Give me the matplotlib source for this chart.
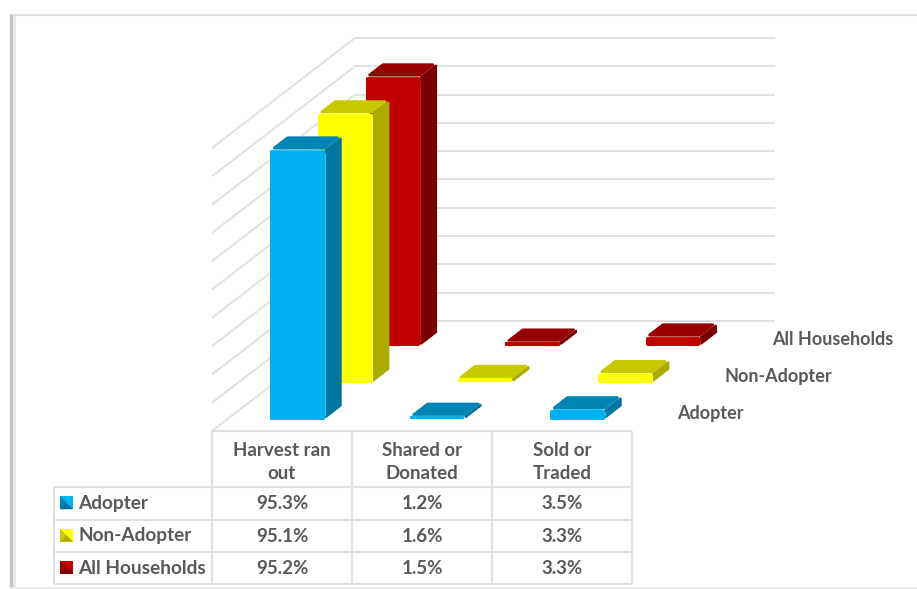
import matplotlib
matplotlib.use("Agg")
import matplotlib.pyplot as plt
import numpy as np
from matplotlib.patches import Polygon

plt.rcParams["font.family"] = ["Lato", "DejaVu Sans"]

categories = ["Harvest ran\nout", "Shared or\nDonated", "Sold or\nTraded"]
series_names = ["Adopter", "Non-Adopter", "All Households"]
adopter = [95.3, 1.2, 3.5]
non_adopter = [95.1, 1.6, 3.3]
all_households = [95.2, 1.5, 3.3]
series_values = [adopter, non_adopter, all_households]
grid_values = [0, 10, 20, 30, 40, 50, 60, 70, 80, 90, 100]

# front, top, side, highlight
colors = [
    ("#00B0F0", "#0085B5", "#0076A1", "#30C2F5"),
    ("#FFFF00", "#C8C800", "#ABAB00", "#FFFF66"),
    ("#C00000", "#960000", "#780000", "#DC0C0C"),
]
text_color = "#595959"
line_color = "#E0E0E0"

fig = plt.figure(figsize=(9.17, 5.89), dpi=100)
ax = fig.add_axes([0, 0, 1, 1])
ax.set_xlim(0, 917)
ax.set_ylim(589, 0)
ax.axis("off")


# oblique projection: category, depth, value -> picture position
def project(c, d, v):
    return (212 + 140 * c + 47.67 * d, 431 - 36.67 * d - 2.83 * v)


# moves every edge of a convex polygon inwards by r pixels
def inset(points, r):
    pts = np.array(points, dtype=float)
    n = len(pts)
    center = pts.mean(axis=0)
    lines = []
    for i in range(n):
        a, b = pts[i], pts[(i + 1) % n]
        normal = np.array([b[1] - a[1], a[0] - b[0]])
        normal = normal / np.hypot(*normal)
        if np.dot(center - a, normal) < 0:
            normal = -normal
        lines.append((normal, np.dot(normal, a) + r))
    out = []
    for i in range(n):
        n1, c1 = lines[i - 1]
        n2, c2 = lines[i]
        out.append(np.linalg.solve(np.array([n1, n2]), np.array([c1, c2])))
    return out


# rounded face: shrunk polygon with a thick round stroke
def face(points, color, r=1.5, z=3):
    ax.add_patch(Polygon(inset(points, r), closed=True, facecolor=color, edgecolor=color,
                         linewidth=r * 2 * 0.72, joinstyle="round", zorder=z))


def line(p1, p2, color=line_color, lw=1.4, z=1):
    ax.plot([p1[0], p2[0]], [p1[1], p2[1]], color=color, lw=lw, zorder=z,
            solid_capstyle="butt")


# outer frame of the picture
line((10, 14.5), (917, 14.5), "#DDDDDD", 1.5)
line((11, 14), (11, 588), "#C4C4C4", 2.5)
line((14, 15), (14, 588), "#E8E8E8", 2)
line((10, 587.5), (917, 587.5), "#E8E8E8", 1.2)

# walls
n_cat = len(categories)
n_ser = len(series_names)
for g in grid_values:
    line(project(0, 0, g), project(0, n_ser, g))
    line(project(0, n_ser, g), project(n_cat, n_ser, g))

# bars, back series first
w0, w1 = 0.305, 0.695
d0, d1 = 0.32, 0.68
for s in range(n_ser - 1, -1, -1):
    front, top, side, light = colors[s]
    for c in range(n_cat):
        v = series_values[s][c]
        x0, x1 = c + w0, c + w1
        y0, y1 = s + d0, s + d1
        r = 1.5 if v > 2 else 1.1
        face([project(x1, y0, 0), project(x1, y1, 0), project(x1, y1, v), project(x1, y0, v)], side, min(r, 1.2))
        face([project(x0, y0, v), project(x1, y0, v), project(x1, y1, v), project(x0, y1, v)], top, r)
        face([project(x0, y0, 0), project(x1, y0, 0), project(x1, y0, v), project(x0, y0, v)], front, r)
        if v > 3:
            px0, py0 = project(x0, y0, v)
            px1, py1 = project(x1, y0, 0)
            line((px0 + 3, py0), (px1 - 3, py0), light, 0.8, 4)
            line((px1, py0 + 3), (px1, py1 - 3), light, 0.8, 4)

# series names on the right of the floor
for s, name in enumerate(series_names):
    x, y = project(n_cat, s + 0.5, 0)
    ax.text(x + 21, y + 0.5, name, color=text_color, fontsize=13, fontweight="bold",
            ha="left", va="center")

# data table under the chart
col_x = [project(c, 0, 0)[0] for c in range(n_cat + 1)]
row_y = [431, 487, 519.5, 552, 584]
table_left = 54

line((col_x[0], row_y[0]), (col_x[-1], row_y[0]), lw=1.5)
for y in row_y[1:]:
    line((table_left, y), (col_x[-1], y), lw=1.5)
line((table_left, row_y[1]), (table_left, row_y[-1]), lw=1.5)
for x in col_x:
    line((x, row_y[0]), (x, row_y[-1]), lw=1.5)

for c, cat in enumerate(categories):
    ax.text((col_x[c] + col_x[c + 1]) / 2, (row_y[0] + row_y[1]) / 2 + 3, cat,
            color=text_color, fontsize=13.5, fontweight="bold", ha="center",
            va="center", linespacing=1.4)

for s, name in enumerate(series_names):
    y_mid = (row_y[s + 1] + row_y[s + 2]) / 2
    front, top, side, light = colors[s]
    kx, ky = 60, y_mid - 7
    k = 13
    cx, cy = kx + k / 2, ky + k / 2
    ax.add_patch(Polygon([(kx, ky), (kx + k, ky), (kx + k, ky + k), (kx, ky + k)],
                         facecolor=front, edgecolor="none", zorder=4))
    ax.add_patch(Polygon([(kx, ky), (cx, cy), (kx, ky + k)], facecolor=top, edgecolor="none", zorder=5))
    ax.add_patch(Polygon([(kx, ky + k), (cx, cy), (kx + k, ky + k)], facecolor=side, edgecolor="none", zorder=5))
    ax.text(78, y_mid, name, color=text_color, fontsize=13.7, fontweight="bold",
            ha="left", va="center")
    for c in range(n_cat):
        ax.text((col_x[c] + col_x[c + 1]) / 2, y_mid + 0.5, f"{series_values[s][c]:.1f}%",
                color=text_color, fontsize=13.5, fontweight="bold", ha="center", va="center")

fig.savefig("out.png", dpi=100)
